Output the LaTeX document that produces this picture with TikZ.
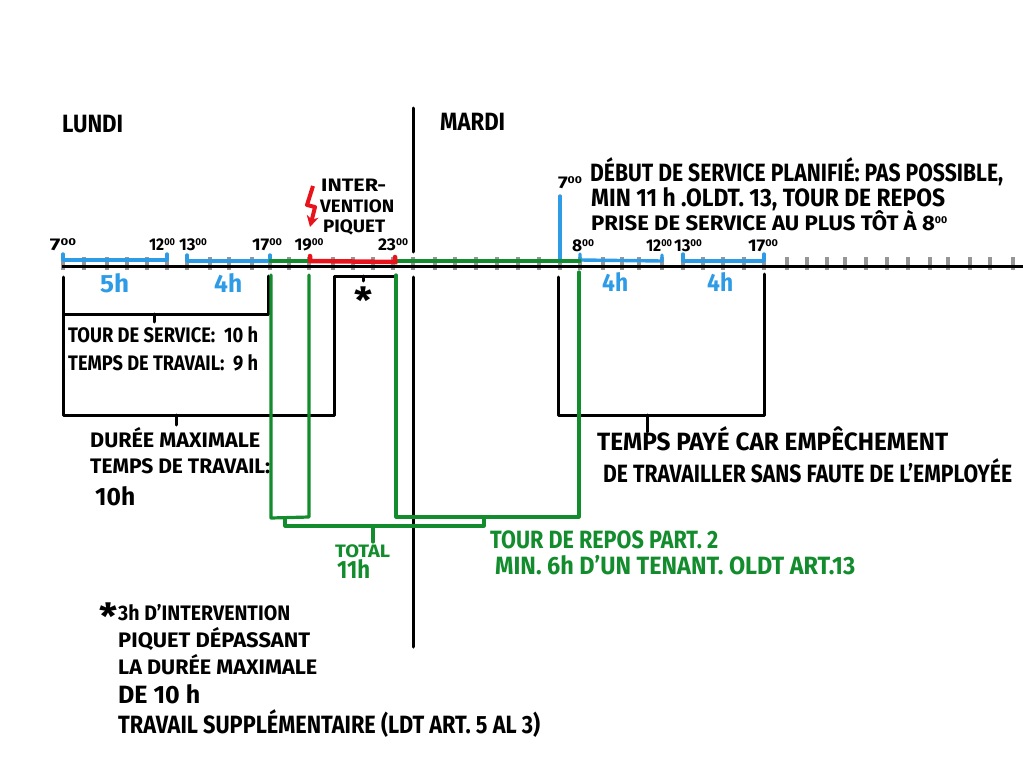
\documentclass[tikz,border=0pt]{standalone}
\usepackage{graphicx}
\usepackage{fontspec}
\setmainfont{Fira Sans}
\usetikzlibrary{arrows.meta}
\definecolor{handblue}{HTML}{2E9BE6}
\definecolor{handgreen}{HTML}{128C2C}
\definecolor{handred}{HTML}{E8141C}
\definecolor{tickgrey}{HTML}{969696}
\newcommand{\fitw}[2]{\resizebox{#1pt}{\height}{#2}}
\newcommand{\hr}[1]{#1\raisebox{0.55ex}{\fontsize{10}{10}\selectfont 00}}
\tikzset{
  hand/.style={anchor=base west,inner sep=0pt,font=\fontsize{25}{25}\selectfont\bfseries},
  mid hand/.style={hand,font=\fontsize{21}{21}\selectfont\bfseries},
  small hand/.style={hand,font=\fontsize{18}{18}\selectfont\bfseries},
  starry/.style={anchor=base west,inner sep=0pt,font=\fontsize{36}{36}\selectfont\bfseries},
  hour/.style={anchor=base,inner sep=0pt,font=\fontsize{17}{17}\selectfont\bfseries},
  blackline/.style={line width=3pt,line cap=round,line join=round},
  blueline/.style={line width=3.4pt,handblue,line cap=round,line join=round},
  greenline/.style={line width=3.2pt,handgreen,line cap=round,line join=round},
}
\begin{document}
\begin{tikzpicture}[x=1pt,y=-1pt]
  \useasboundingbox (0,0) rectangle (1023,784);

  % grey ticks
  \foreach \tx in {63,84,107,127,147,167,187,210,229,252,270,289,309,333,353,373,393,413,435,455,476,497,518,539,560,580,603,622,639,662,683,703,723,744,764,787,807,827,845,866,887,908,930,948,970,990,1013}{
    \draw[tickgrey,line width=4.5pt] (\tx,257) -- (\tx,270);
  }
  \draw[line width=3pt] (62,266) -- (1023,266);

  % day divider
  \draw[blackline] (413,108) -- (413,252);
  \draw[blackline] (413,277) -- (413,647);

  % blue work periods
  \draw[blueline] (63,254) -- (63,260) -- (167,260) -- (167,254);
  \draw[blueline] (187,255) -- (187,261) -- (270,261) -- (270,255);
  \draw[blueline] (580,254) -- (580,260) -- (662,261) -- (662,255);
  \draw[blueline] (683,254) -- (683,261) -- (764,261) -- (764,254);
  \draw[blueline] (560,196) -- (560,262);

  % rest and intervention
  \draw[greenline] (270,261) -- (309,261);
  \draw[greenline] (395,261) -- (580,261);
  \draw[handred,line width=4.5pt,line cap=round] (310,256) -- (310,261) -- (395,262) -- (395,257);
  \draw[handred,line width=4pt,line join=round,-{Stealth[length=11pt,width=12pt]}] (313,186) -- (307,205) -- (315,207) -- (310,227);

  % black brackets
  \draw[blackline] (63,277) -- (63,314) -- (268,314) -- (268,276);
  \draw[blackline] (154,314) -- (154,322);
  \draw[blackline] (63,314) -- (63,415) -- (334,415) -- (334,276) -- (396,276);
  \draw[blackline] (176,415) -- (176,425);
  \draw[blackline] (363,276) -- (363,281);
  \draw[blackline] (558,277) -- (558,415) -- (764,415) -- (764,274);
  \draw[blackline] (647,415) -- (647,432);

  % green brackets
  \draw[greenline] (271,275) -- (271,518) -- (309,517) -- (309,275);
  \draw[greenline] (396,275) -- (396,517) -- (579,517) -- (579,272);
  \draw[greenline] (285,518) -- (285,526) -- (484,526) -- (484,518);
  \draw[greenline] (373,526) -- (373,542);

  % days
  \node[hand] (lundi) at (62,132) {\fitw{61}{LUNDI}};
  \node[hand] (mardi) at (440,130) {\fitw{65}{MARDI}};

  % hours
  \node[hour] (a7) at (63,250) {\fitw{26}{\hr{7}}};
  \node[hour] (a12) at (162,250) {\fitw{26}{\hr{12}}};
  \node[hour] (a13) at (193,250) {\fitw{28}{\hr{13}}};
  \node[hour] (a17) at (267,250) {\fitw{30}{\hr{17}}};
  \node[hour] (a19) at (309,250) {\fitw{29}{\hr{19}}};
  \node[hour] (a23) at (393,250) {\fitw{30}{\hr{23}}};
  \node[hour] (b8) at (583,251) {\fitw{22}{\hr{8}}};
  \node[hour] (b12) at (659,251) {\fitw{26}{\hr{12}}};
  \node[hour] (b13) at (688,251) {\fitw{28}{\hr{13}}};
  \node[hour] (b17) at (763,251) {\fitw{30}{\hr{17}}};
  \node[hour] (b7) at (570,188) {\fitw{24}{\hr{7}}};

  % blue durations
  \node[hand,handblue] (d5) at (100,292) {\fitw{29}{5h}};
  \node[hand,handblue] (d4a) at (214,292) {\fitw{28}{4h}};
  \node[hand,handblue] (d4b) at (602,291) {\fitw{26}{4h}};
  \node[hand,handblue] (d4c) at (707,291) {\fitw{26}{4h}};

  % intervention
  \node[small hand] (inter) at (321,191) {\fitw{65}{INTER-}};
  \node[small hand] (vent) at (320,212) {\fitw{74}{VENTION}};
  \node[small hand] (piquet) at (323,232) {\fitw{62}{PIQUET}};
  \node[starry] (star) at (354,313) {\fitw{18}{*}};

  % left block
  \node[mid hand] (tour) at (68,342) {\fitw{190}{TOUR DE SERVICE:~ 10 h}};
  \node[mid hand] (temps) at (68,370) {\fitw{190}{TEMPS DE TRAVAIL:~ 9 h}};
  \node[mid hand] (duree) at (90,447) {\fitw{170}{DURÉE MAXIMALE}};
  \node[mid hand] (tempsb) at (90,473) {\fitw{180}{TEMPS DE TRAVAIL:}};
  \node[hand] (dix) at (95,505) {\fitw{40}{10h}};

  % right block
  \node[hand] (paye) at (597,450) {\fitw{351}{TEMPS PAYÉ CAR EMPÊCHEMENT}};
  \node[hand] (fautea) at (603,482) {\fitw{409}{DE TRAVAILLER SANS FAUTE DE L'EMPLOYÉE}};

  % planned start
  \node[hand] (debut) at (590,181) {\fitw{413}{DÉBUT DE SERVICE PLANIFIÉ: PAS POSSIBLE,}};
  \node[hand] (minh) at (591,206) {\fitw{354}{MIN 11 h .OLDT. 13, TOUR DE REPOS}};
  \node[mid hand] (prise) at (591,230) {\fitw{356}{PRISE DE SERVICE AU PLUS TÔT À \hr{8}}};

  % green labels
  \node[small hand,handgreen] (total) at (335,557) {\fitw{55}{TOTAL}};
  \node[hand,handgreen] (onzeh) at (337,578) {\fitw{33}{11h}};
  \node[hand,handgreen] (tourb) at (490,548) {\fitw{228}{TOUR DE REPOS PART. 2}};
  \node[hand,handgreen] (minb) at (495,574) {\fitw{360}{MIN. 6h D'UN TENANT. OLDT ART.13}};

  % footnote
  \node[starry] (notstar) at (99,629) {\fitw{18}{*}};
  \node[mid hand] (nota) at (118,620) {\fitw{172}{3h D'INTERVENTION}};
  \node[mid hand] (notb) at (118,647) {\fitw{192}{PIQUET DÉPASSANT}};
  \node[mid hand] (notc) at (118,674) {\fitw{199}{LA DURÉE MAXIMALE}};
  \node[hand] (notd) at (118,703) {\fitw{82}{DE 10 h}};
  \node[hand] (note) at (118,733) {\fitw{422}{TRAVAIL SUPPLÉMENTAIRE (LDT ART. 5 AL 3)}};
\end{tikzpicture}
\end{document}
